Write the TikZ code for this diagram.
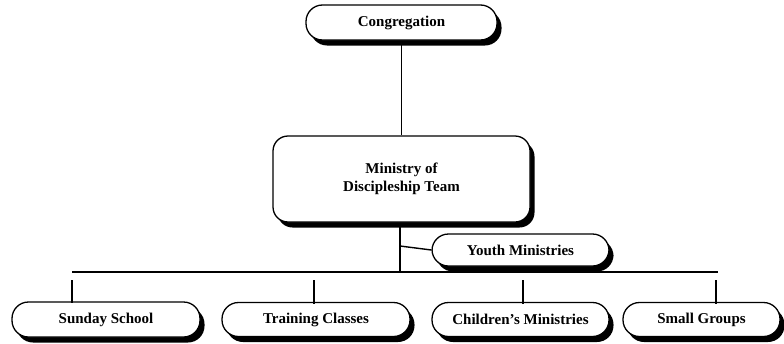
\documentclass[tikz,border=0pt]{standalone}
\usepackage{fontspec}
\setmainfont{Liberation Serif}
\usetikzlibrary{shadows}
\begin{document}
\begin{tikzpicture}[x=1pt,y=-1pt,
  box/.style={draw=black, line width=1.3pt, fill=white, rounded corners=16.5pt,
    inner sep=0pt, align=center, font=\fontsize{15}{17.5}\selectfont\bfseries,
    drop shadow={shadow xshift=4.5pt, shadow yshift=-5.5pt, fill=black, opacity=1}},
  bigbox/.style={box, rounded corners=15pt},
  wire/.style={line width=1.4pt}]
\useasboundingbox (0,0) rectangle (784,343);
% boxes
\node[box, minimum width=191pt, minimum height=35pt] (cong) at (401.5,22.5) {Congregation};
\node[bigbox, minimum width=257pt, minimum height=86pt] (mdt) at (401.5,179) {Ministry of\\Discipleship Team};
\node[box, minimum width=177pt, minimum height=32pt] (youth) at (520.5,250) {Youth Ministries};
\node[box, minimum width=188pt, minimum height=35pt] (sunday) at (106,319.5) {Sunday School};
\node[box, minimum width=188pt, minimum height=34pt] (training) at (316,319.5) {Training Classes};
\node[box, minimum width=177pt, minimum height=34pt] (children) at (520.5,319.5) {Children’s Ministries};
\node[box, minimum width=157pt, minimum height=34pt] (small) at (701.5,319.5) {Small Groups};
% bus and tick coordinates
\coordinate (busL) at (72,272);
\coordinate (busR) at (718,272);
\coordinate (drop) at (400,272);
\coordinate (tap) at (400,246);
\coordinate (t1) at (72,280);
\coordinate (t2) at (314,280);
\coordinate (t3) at (523,280);
\coordinate (t4) at (716,280);
% connectors
\draw[wire] (cong.south) -- (mdt.north);
\draw[wire] (mdt.south -| drop) -- (drop);
\draw[wire] (tap) -- (youth.west);
\draw[wire] (busL) -- (busR);
\draw[wire] (t1) -- ([yshift=-2pt]t1 |- sunday.north);
\draw[wire] (t2) -- ([yshift=-2pt]t2 |- training.north);
\draw[wire] (t3) -- ([yshift=-2pt]t3 |- children.north);
\draw[wire] (t4) -- ([yshift=-2pt]t4 |- small.north);
\end{tikzpicture}
\end{document}
